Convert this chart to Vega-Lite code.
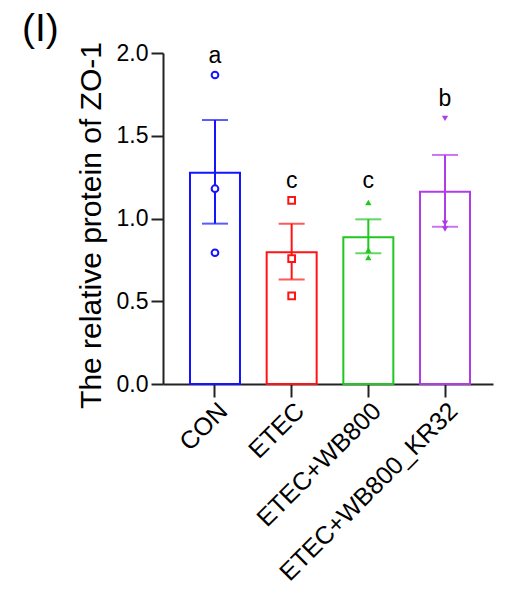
{
  "$schema": "https://vega.github.io/schema/vega-lite/v6.json",
  "width": 330,
  "height": 331,
  "autosize": {"type": "none"},
  "padding": {"left": 163, "top": 53, "right": 12, "bottom": 208},
  "background": "white",
  "title": {"text": "(I)", "anchor": "start", "frame": "group", "dx": -141, "dy": 15, "offset": 8, "fontSize": 39, "fontWeight": "normal", "font": "Liberation Sans", "color": "black"},
  "datasets": {
    "bars": [
      {"group": "CON", "mean": 1.277, "lo": 0.969, "hi": 1.595, "letter": "a", "letterY": 1.941},
      {"group": "ETEC", "mean": 0.796, "lo": 0.632, "hi": 0.969, "letter": "c", "letterY": 1.183},
      {"group": "ETEC+WB800", "mean": 0.886, "lo": 0.79, "hi": 0.995, "letter": "c", "letterY": 1.183},
      {"group": "ETEC+WB800_KR32", "mean": 1.162, "lo": 0.95, "hi": 1.384, "letter": "b", "letterY": 1.682}
    ],
    "points": [
      {"group": "CON", "value": 1.867},
      {"group": "CON", "value": 1.18},
      {"group": "CON", "value": 0.793},
      {"group": "ETEC", "value": 1.11},
      {"group": "ETEC", "value": 0.757},
      {"group": "ETEC", "value": 0.532},
      {"group": "ETEC+WB800", "value": 1.096},
      {"group": "ETEC+WB800", "value": 0.81},
      {"group": "ETEC+WB800", "value": 0.765},
      {"group": "ETEC+WB800_KR32", "value": 1.605},
      {"group": "ETEC+WB800_KR32", "value": 0.937},
      {"group": "ETEC+WB800_KR32", "value": 0.971}
    ]
  },
  "config": {
    "view": {"stroke": null},
    "font": "Liberation Sans",
    "axis": {"grid": false, "domainColor": "#222222", "domainWidth": 2, "tickColor": "#222222", "tickWidth": 2, "labelColor": "black", "titleColor": "black", "labelFont": "Liberation Sans", "titleFont": "Liberation Sans"}
  },
  "encoding": {
    "x": {
      "field": "group", "type": "nominal", "sort": null,
      "scale": {"paddingInner": 0.348, "paddingOuter": 0.326, "align": 0.54},
      "axis": {"title": null, "labelAngle": -45, "labelFontSize": 25, "labelLimit": 0, "tickSize": 13, "labelPadding": 1, "domainWidth": 2}
    }
  },
  "layer": [
    {
      "data": {"name": "bars"},
      "mark": {"type": "bar", "fill": "white", "strokeWidth": 2},
      "encoding": {
        "y": {
          "field": "mean", "type": "quantitative",
          "scale": {"domain": [0, 2], "nice": false},
          "axis": {"title": "The relative protein of ZO-1", "titleFontSize": 30, "titleFontWeight": "normal", "titleY": 172, "labelFontSize": 23, "tickSize": 12, "labelPadding": 3, "titlePadding": 10, "values": [0, 0.5, 1, 1.5, 2], "format": ".1f"}
        },
        "stroke": {"field": "group", "type": "nominal", "sort": null, "legend": null,
          "scale": {"domain": ["CON", "ETEC", "ETEC+WB800", "ETEC+WB800_KR32"], "range": ["#1414ff", "#ff1414", "#1ec81e", "#b03ce8"]}}
      }
    },
    {
      "data": {"name": "bars"},
      "mark": {"type": "rule", "strokeWidth": 2},
      "encoding": {
        "y": {"field": "lo", "type": "quantitative"},
        "y2": {"field": "hi"},
        "color": {"field": "group", "type": "nominal", "sort": null, "legend": null,
          "scale": {"domain": ["CON", "ETEC", "ETEC+WB800", "ETEC+WB800_KR32"], "range": ["#1414ff", "#ff1414", "#1ec81e", "#b03ce8"]}}
      }
    },
    {
      "data": {"name": "bars"},
      "mark": {"type": "tick", "size": 26, "thickness": 2, "orient": "horizontal"},
      "encoding": {
        "y": {"field": "hi", "type": "quantitative"},
        "color": {"field": "group", "type": "nominal", "sort": null, "legend": null}
      }
    },
    {
      "data": {"name": "bars"},
      "mark": {"type": "tick", "size": 26, "thickness": 2, "orient": "horizontal"},
      "encoding": {
        "y": {"field": "lo", "type": "quantitative"},
        "color": {"field": "group", "type": "nominal", "sort": null, "legend": null}
      }
    },
    {
      "data": {"name": "points"},
      "transform": [{"filter": "datum.group == 'CON' || datum.group == 'ETEC'"}],
      "mark": {"type": "point", "filled": false, "strokeWidth": 2, "size": 45, "fill": "white", "fillOpacity": 1},
      "encoding": {
        "y": {"field": "value", "type": "quantitative"},
        "color": {"field": "group", "type": "nominal", "sort": null, "legend": null},
        "shape": {"field": "group", "type": "nominal", "sort": null, "legend": null,
          "scale": {"domain": ["CON", "ETEC", "ETEC+WB800", "ETEC+WB800_KR32"], "range": ["circle", "square", "triangle-up", "triangle-down"]}}
      }
    },
    {
      "data": {"name": "points"},
      "transform": [{"filter": "datum.group == 'ETEC+WB800' || datum.group == 'ETEC+WB800_KR32'"}],
      "mark": {"type": "point", "filled": true, "size": 40, "opacity": 1},
      "encoding": {
        "y": {"field": "value", "type": "quantitative"},
        "color": {"field": "group", "type": "nominal", "sort": null, "legend": null},
        "shape": {"field": "group", "type": "nominal", "sort": null, "legend": null}
      }
    },
    {
      "data": {"name": "bars"},
      "mark": {"type": "text", "fontSize": 23, "baseline": "alphabetic", "align": "center", "color": "black"},
      "encoding": {
        "y": {"field": "letterY", "type": "quantitative"},
        "text": {"field": "letter"}
      }
    }
  ]
}
